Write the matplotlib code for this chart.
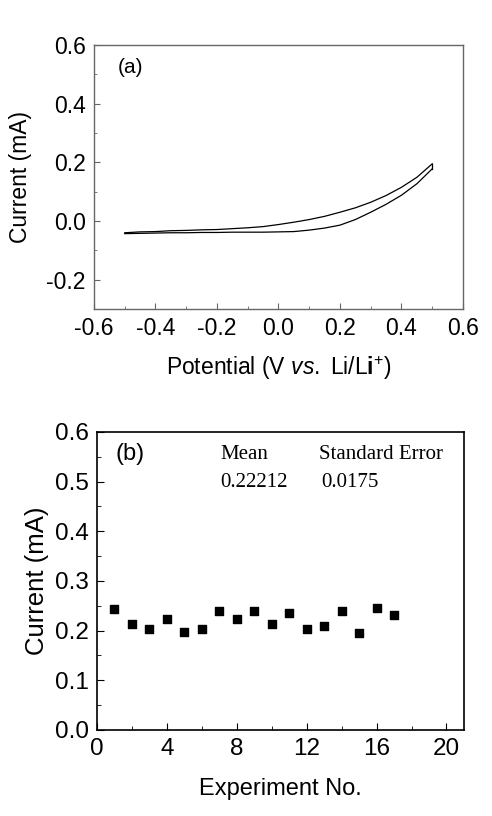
import numpy as np
import matplotlib
matplotlib.use('Agg')
from matplotlib import pyplot as plt
from matplotlib.ticker import MultipleLocator

plt.rcParams['font.family'] = ['Liberation Sans', 'DejaVu Sans']
plt.rcParams['axes.unicode_minus'] = False
plt.rcParams['mathtext.fontset'] = 'custom'
plt.rcParams['mathtext.rm'] = 'Liberation Sans'
plt.rcParams['mathtext.it'] = 'Liberation Sans:italic'
plt.rcParams['mathtext.bf'] = 'Liberation Sans:bold'

# (a) cyclic voltammogram
potential = [-0.50, -0.45, -0.40, -0.35, -0.30, -0.25, -0.20, -0.15, -0.10, -0.05,
             0.00, 0.05, 0.10, 0.15, 0.20, 0.25, 0.30, 0.35, 0.40, 0.45, 0.50]
current_up = [-0.040, -0.037, -0.036, -0.033, -0.032, -0.030, -0.029, -0.026, -0.023, -0.019,
              -0.012, -0.004, 0.005, 0.016, 0.030, 0.045, 0.064, 0.087, 0.115, 0.149, 0.195]
current_down = [-0.043, -0.042, -0.041, -0.040, -0.040, -0.039, -0.039, -0.038, -0.038, -0.038,
                -0.037, -0.036, -0.031, -0.024, -0.014, 0.005, 0.030, 0.057, 0.088, 0.127, 0.178]

# (b) repeated experiments
exp_no = list(range(1, 18))
exp_current = [0.243, 0.213, 0.204, 0.224, 0.197, 0.204, 0.239, 0.223, 0.239,
               0.213, 0.235, 0.204, 0.210, 0.239, 0.195, 0.245, 0.231]

fig = plt.figure(figsize=(4.92, 8.16), dpi=100)

# ---- panel (a)
ax1 = fig.add_axes([0.191, 0.6213, 0.750, 0.3235])
ax1.plot(potential, current_up, color='black', lw=0.9)
ax1.plot(potential, current_down, color='black', lw=0.9)
ax1.plot([potential[-1], potential[-1]], [current_down[-1], current_up[-1]], color='black', lw=0.9)
ax1.set_xlim(-0.6, 0.6)
ax1.set_ylim(-0.3, 0.6)
ax1.xaxis.set_major_locator(MultipleLocator(0.2))
ax1.xaxis.set_minor_locator(MultipleLocator(0.1))
ax1.set_yticks([-0.2, 0.0, 0.2, 0.4, 0.6])
ax1.yaxis.set_minor_locator(MultipleLocator(0.1))
ax1.tick_params(which='both', direction='in', top=False, right=False, labelsize=16.5,
                color='#666666', pad=6)
ax1.tick_params(which='major', length=4)
ax1.tick_params(which='minor', length=2)
for s in ax1.spines.values():
    s.set_color('#666666')
    s.set_linewidth(1.0)
ax1.set_xlabel('Potential (V $\\mathit{vs.}$ Li/L$\\mathbf{i}^{+}$)', fontsize=16.5, labelpad=10)
ax1.set_ylabel('Current (mA)', fontsize=16.5, labelpad=10)
ax1.text(0.065, 0.915, '(a)', transform=ax1.transAxes, fontsize=15, va='center', ha='left')

# ---- panel (b)
ax2 = fig.add_axes([0.197, 0.1054, 0.746, 0.3652])
ax2.scatter(exp_no, exp_current, marker='s', s=40, color='black', zorder=3)
ax2.set_xlim(0, 21)
ax2.set_ylim(0, 0.6)
ax2.xaxis.set_major_locator(MultipleLocator(4))
ax2.xaxis.set_minor_locator(MultipleLocator(2))
ax2.yaxis.set_major_locator(MultipleLocator(0.1))
ax2.yaxis.set_minor_locator(MultipleLocator(0.05))
ax2.tick_params(which='both', direction='in', top=False, right=False, labelsize=17.5, pad=6)
ax2.tick_params(which='major', length=5)
ax2.tick_params(which='minor', length=3)
for s in ax2.spines.values():
    s.set_linewidth(1.2)
ax2.set_xlabel('Experiment No.', fontsize=17, labelpad=13)
ax2.set_ylabel('Current (mA)', fontsize=18.5, labelpad=4)
ax2.text(0.05, 0.925, '(b)', transform=ax2.transAxes, fontsize=17, va='center', ha='left')
ax2.text(0.337, 0.925, 'Mean', transform=ax2.transAxes, fontsize=15, va='center',
         ha='left', family='Liberation Serif')
ax2.text(0.604, 0.925, 'Standard Error', transform=ax2.transAxes, fontsize=15, va='center',
         ha='left', family='Liberation Serif')
ax2.text(0.337, 0.83, '0.22212', transform=ax2.transAxes, fontsize=15, va='center',
         ha='left', family='Liberation Serif')
ax2.text(0.612, 0.83, '0.0175', transform=ax2.transAxes, fontsize=15, va='center',
         ha='left', family='Liberation Serif')

fig.savefig('out.png', dpi=100)
